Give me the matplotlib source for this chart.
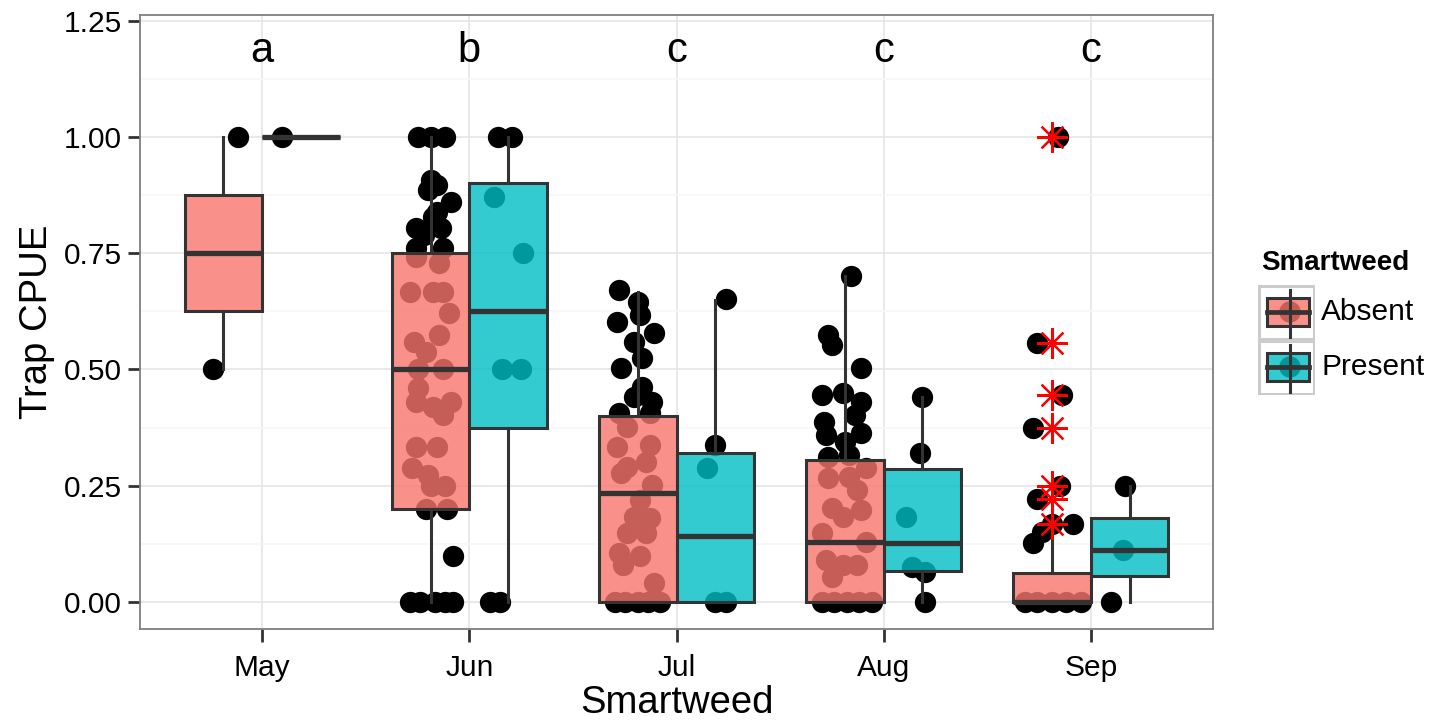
import numpy as np
import matplotlib
matplotlib.use("Agg")
import matplotlib.pyplot as plt
from matplotlib.colors import to_rgba
from matplotlib.patches import Rectangle, Circle

plt.rcParams["font.family"] = ["Liberation Sans", "DejaVu Sans"]

months = ["May", "Jun", "Jul", "Aug", "Sep"]
groups = ["Absent", "Present"]
sig_letters = ["a", "b", "c", "c", "c"]
fill_colors = {"Absent": "#F8766D", "Present": "#00BFC4"}

# box summaries per month: whisker low, q1, median, q3, whisker high
absent_lo = [0.5, 0.0, 0.0, 0.0, 0.0]
absent_q1 = [0.625, 0.2, 0.0, 0.0, 0.0]
absent_med = [0.75, 0.5, 0.235, 0.13, 0.0]
absent_q3 = [0.875, 0.75, 0.40, 0.305, 0.0625]
absent_hi = [1.0, 1.0, 0.667, 0.70, 0.15]
absent_out = [[], [], [], [], [1.0, 0.556, 0.444, 0.375, 0.25, 0.222, 0.167]]

present_lo = [1.0, 0.0, 0.0, 0.0, 0.0]
present_q1 = [1.0, 0.375, 0.0, 0.067, 0.056]
present_med = [1.0, 0.625, 0.143, 0.127, 0.111]
present_q3 = [1.0, 0.90, 0.32, 0.286, 0.18]
present_hi = [1.0, 1.0, 0.65, 0.44, 0.25]
present_out = [[], [], [], [], []]

# trap CPUE of each trap, with the jitter offset each point was drawn at
absent_cpue = [
    [0.5, 1.0],
    [1.0, 1.0, 1.0, 0.907, 0.886, 0.897, 0.86, 0.839, 0.828, 0.804, 0.804, 0.79,
     0.761, 0.761, 0.742, 0.729, 0.667, 0.667, 0.667, 0.621, 0.574, 0.559, 0.538,
     0.5, 0.5, 0.46, 0.43, 0.43, 0.42, 0.402, 0.333, 0.333, 0.288, 0.273, 0.25,
     0.25, 0.2, 0.2, 0.1, 0.0, 0.0, 0.0, 0.0, 0.0],
    [0.671, 0.645, 0.617, 0.602, 0.578, 0.56, 0.525, 0.503, 0.463, 0.441, 0.43,
     0.406, 0.406, 0.376, 0.333, 0.338, 0.301, 0.29, 0.277, 0.252, 0.219, 0.183,
     0.18, 0.148, 0.148, 0.105, 0.1, 0.08, 0.04, 0.0, 0.0, 0.0, 0.0, 0.0],
    [0.70, 0.574, 0.553, 0.503, 0.445, 0.449, 0.43, 0.402, 0.387, 0.359, 0.363,
     0.344, 0.316, 0.312, 0.288, 0.266, 0.269, 0.241, 0.202, 0.198, 0.183, 0.148,
     0.13, 0.09, 0.08, 0.08, 0.054, 0.0, 0.0, 0.0, 0.0, 0.0],
    [1.0, 0.556, 0.444, 0.375, 0.25, 0.222, 0.167, 0.167, 0.15, 0.127,
     0.0, 0.0, 0.0, 0.0, 0.0],
]
absent_jit = [
    [-0.05, 0.07],
    [-0.06, 0.0, 0.07, 0.0, -0.01, 0.03, 0.10, 0.03, 0.01, 0.05, -0.07, -0.03,
     -0.07, 0.06, -0.07, 0.04, -0.10, 0.01, 0.06, 0.09, 0.04, -0.08, -0.02,
     -0.06, 0.06, -0.06, -0.07, 0.10, 0.01, 0.06, -0.07, 0.03, -0.09, -0.01, 0.07,
     0.0, -0.02, 0.08, 0.11, -0.10, -0.05, 0.02, 0.07, 0.11],
    [-0.09, 0.0, 0.01, -0.10, 0.08, -0.02, 0.02, -0.08, 0.02, -0.02, 0.07,
     -0.09, 0.06, -0.05, -0.10, 0.06, 0.04, -0.05, -0.08, 0.07, 0.01, -0.02,
     0.06, -0.05, 0.04, -0.09, 0.01, -0.07, 0.08, -0.11, -0.06, 0.0, 0.05, 0.11],
    [0.03, -0.08, -0.06, 0.08, -0.11, -0.01, 0.08, 0.05, -0.10, -0.09, 0.08,
     0.0, 0.02, -0.08, 0.10, -0.08, 0.02, 0.06, -0.06, 0.08, -0.01, -0.11,
     0.10, -0.09, -0.01, 0.06, -0.06, -0.11, -0.05, 0.01, 0.07, 0.13],
    [0.03, -0.07, 0.05, -0.09, 0.04, -0.07, 0.0, 0.10, -0.05, -0.09,
     -0.13, -0.07, 0.0, 0.07, 0.14],
]
present_cpue = [
    [1.0],
    [1.0, 1.0, 0.87, 0.75, 0.5, 0.5, 0.0, 0.0],
    [0.652, 0.338, 0.288, 0.0, 0.0],
    [0.44, 0.32, 0.183, 0.075, 0.065, 0.0],
    [0.25, 0.111, 0.0],
]
present_jit = [
    [-0.09],
    [-0.05, 0.02, -0.07, 0.07, -0.03, 0.06, -0.09, -0.04],
    [0.05, 0.0, -0.04, 0.0, 0.05],
    [0.0, -0.01, -0.08, -0.05, 0.01, 0.01],
    [-0.02, -0.03, -0.09],
]

fig = plt.figure(figsize=(14.31, 7.2), dpi=100)
W, H = 1431, 720
ax = fig.add_axes([140 / W, (H - 629) / H, (1213 - 140) / W, (629 - 15) / H])

pos = np.arange(1, len(months) + 1)
dodge = 0.1875
box_w = 0.375
edge = "#333333"
lw = 2.2
fill_alpha = 0.8

# jittered points go underneath the translucent boxes
for i, p in enumerate(pos):
    ax.scatter(p - dodge + np.array(absent_jit[i]), absent_cpue[i], s=235,
               color="black", linewidths=0, zorder=2)
    ax.scatter(p + dodge + np.array(present_jit[i]), present_cpue[i], s=235,
               color="black", linewidths=0, zorder=2)

def make_stats(lo, q1, med, q3, hi, out):
    return [dict(whislo=lo[i], q1=q1[i], med=med[i], q3=q3[i], whishi=hi[i],
                 fliers=out[i]) for i in range(len(lo))]

box_sets = {
    "Absent": make_stats(absent_lo, absent_q1, absent_med, absent_q3, absent_hi, absent_out),
    "Present": make_stats(present_lo, present_q1, present_med, present_q3, present_hi, present_out),
}
for g, shift in zip(groups, [-dodge, dodge]):
    ax.bxp(box_sets[g], positions=pos + shift, widths=box_w, patch_artist=True,
           showcaps=False, showfliers=True, manage_ticks=False,
           boxprops=dict(facecolor=to_rgba(fill_colors[g], fill_alpha), edgecolor=edge,
                         linewidth=lw),
           whiskerprops=dict(color=edge, linewidth=lw),
           medianprops=dict(color=edge, linewidth=3.8, solid_capstyle="butt"),
           flierprops=dict(marker=(8, 2, 0), markersize=22, markeredgecolor="red",
                           markerfacecolor="red", markeredgewidth=1.6, linestyle="none"),
           zorder=3)

for p, letter in zip(pos, sig_letters):
    ax.text(p, 1.185, letter, ha="center", va="center", fontsize=30, color="black")

ax.set_xlim(0.41, 5.59)
ax.set_ylim(-0.058, 1.262)
ax.set_xticks(pos)
ax.set_xticklabels(months)
ax.set_yticks(np.arange(0, 1.26, 0.25))
ax.set_yticklabels(["0.00", "0.25", "0.50", "0.75", "1.00", "1.25"])
ax.set_yticks(np.arange(0.125, 1.25, 0.25), minor=True)
ax.tick_params(axis="both", which="major", labelsize=21.5, length=9, width=2,
               color=edge, labelcolor="black")
ax.tick_params(axis="x", which="major", pad=9)
ax.tick_params(axis="y", which="major", pad=4)
ax.tick_params(axis="y", which="minor", length=0)
ax.grid(which="major", color="#E5E5E5", linewidth=1.2)
ax.grid(which="minor", axis="y", color="#F7F7F7", linewidth=1.2)
ax.set_axisbelow(True)
for s in ax.spines.values():
    s.set_color("#7F7F7F")
    s.set_linewidth(1.3)

ax.set_xlabel("Smartweed", fontsize=27.5, labelpad=2)
ax.set_ylabel("Trap CPUE", fontsize=27.5, labelpad=6)

# legend drawn in its own small axes, in pixel units
lax = fig.add_axes([1258 / W, (H - 395) / H, 57 / W, 110 / H])
lax.set_xlim(0, 57)
lax.set_ylim(110, 0)
lax.axis("off")
for k, g in enumerate(groups):
    top = k * 55
    lax.add_patch(Rectangle((1, top + 1), 55, 53, facecolor="white",
                            edgecolor="#CCCCCC", linewidth=2.2))
    lax.plot([32, 32], [top + 5, top + 52], color=edge, linewidth=lw)
    lax.add_patch(Circle((32, top + 27), 10, color="black"))
    lax.add_patch(Rectangle((9, top + 13), 42, 28,
                            facecolor=to_rgba(fill_colors[g], fill_alpha),
                            edgecolor=edge, linewidth=lw))
    lax.plot([9, 51], [top + 27, top + 27], color=edge, linewidth=3.4)
    fig.text(1321 / W, (H - 285 - top - 27) / H, g, fontsize=21.5, va="center")
fig.text(1261 / W, (H - 263) / H, "Smartweed", fontsize=20, fontweight="bold",
         va="center")

fig.savefig("out.png", dpi=100)
